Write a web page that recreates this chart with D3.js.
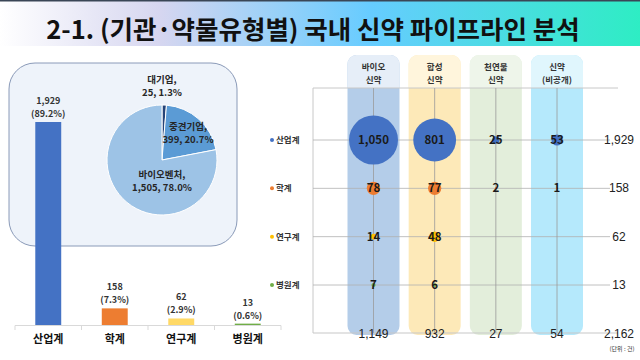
<!DOCTYPE html>
<html><head><meta charset="utf-8">
<script src="https://cdn.jsdelivr.net/npm/d3@7"></script>
<style>html,body{margin:0;padding:0;background:#fff;}svg{display:block;font-family:"Noto Sans CJK KR","Noto Sans",sans-serif;}</style>
</head><body><svg id="c" width="640" height="360"></svg>
<script>
const title = "2-1. (기관·약물유형별) 국내 신약 파이프라인 분석";
const categories = ["산업계", "학계", "연구계", "병원계"];
const catValues = [1929, 158, 62, 13];
const catPct = ["89.2%", "7.3%", "2.9%", "0.6%"];
const catColors = ["#4472C4", "#ED7D31", "#FFD966", "#70AD47"];
const dotColors = ["#4472C4", "#ED7D31", "#FFC000", "#70AD47"];
const pieLabels = ["대기업", "중견기업", "바이오벤처"];
const pieValues = [25, 399, 1505];
const piePct = ["1.3%", "20.7%", "78.0%"];
const pieColors = ["#264478", "#5B9BD5", "#9DC3E6"];
const drugTypes = [["바이오", "신약"], ["합성", "신약"], ["천연물", "신약"], ["신약", "(비공개)"]];
const colBody = ["#b4cde9", "#fde9b8", "#e3eedb", "#b5e9fc"];
const colHead = ["#e6eef8", "#fff5dc", "#eef5ea", "#e0f6fd"];
const industry = [1050, 801, 25, 53];
const academia = [78, 77, 2, 1];
const institute = [14, 48, null, null];
const hospital = [7, 6, null, null];
const rowTotals = [1929, 158, 62, 13];
const colTotals = [1149, 932, 27, 54];
const grandTotal = 2162;
const unitLabel = "(단위 : 건)";

const svg = d3.select("#c");
const fmt = d3.format(",");

// Header
const defs = svg.append("defs");
const g = defs.append("linearGradient").attr("id", "hg");
[[0, "#ffffff"], [0.25, "#d6d6f0"], [0.58, "#66ccff"], [1, "#2eedc4"]].forEach(([o, c]) =>
  g.append("stop").attr("offset", o).attr("stop-color", c));
svg.append("rect").attr("x", 0).attr("y", 0).attr("width", 640).attr("height", 46).attr("fill", "url(#hg)");
svg.append("rect").attr("x", 0).attr("y", 0).attr("width", 640).attr("height", 1.5).attr("fill", "#3a4656");
svg.append("text").attr("x", 313).attr("y", 39).attr("text-anchor", "middle")
  .attr("font-size", 25.5).attr("font-weight", 700).attr("fill", "#111").text(title);

// Left bar chart
const x = d3.scaleBand().domain(categories).range([15, 281]).paddingInner(0.61).paddingOuter(0.305);
const y = d3.scaleLinear().domain([0, 1929]).range([325, 122]);

// Panel
svg.append("rect").attr("x", 9).attr("y", 63).attr("width", 228).attr("height", 183).attr("rx", 26)
  .attr("fill", "#eef3fa").attr("stroke", "#8a9ab8").attr("stroke-width", 1);

// Pie
const pie = d3.pie().sort(null).value(d => d)(pieValues);
const arc = d3.arc().innerRadius(0).outerRadius(55);
const pg = svg.append("g").attr("transform", "translate(162,160)");
pg.selectAll("path").data(pie).join("path").attr("d", arc)
  .attr("fill", (d, i) => pieColors[i]).attr("stroke", "#fff").attr("stroke-width", 1);
const pieLabelPos = [[0, -77], [26, -30], [0, 18]];
pieLabels.forEach((l, i) => {
  const t = pg.append("text").attr("text-anchor", "middle").attr("font-size", 9.5).attr("font-weight", 700).attr("fill", "#262626");
  t.append("tspan").attr("x", pieLabelPos[i][0]).attr("y", pieLabelPos[i][1]).text(l + ",");
  t.append("tspan").attr("x", pieLabelPos[i][0]).attr("y", pieLabelPos[i][1] + 13).text(fmt(pieValues[i]) + ", " + piePct[i]);
});

// Bars
svg.selectAll(".bar").data(categories).join("rect")
  .attr("x", d => x(d)).attr("width", x.bandwidth())
  .attr("y", (d, i) => y(catValues[i])).attr("height", (d, i) => 325 - y(catValues[i]))
  .attr("fill", (d, i) => catColors[i]);
// axis
svg.append("line").attr("x1", 15).attr("x2", 281).attr("y1", 325.5).attr("y2", 325.5).attr("stroke", "#d9d9d9");
d3.range(categories.length + 1).forEach(i => {
  const xx = 15 + i * x.step();
  svg.append("line").attr("x1", xx).attr("x2", xx).attr("y1", 325.5).attr("y2", 330).attr("stroke", "#d9d9d9");
});
categories.forEach((c, i) => {
  const cx = x(c) + x.bandwidth() / 2;
  svg.append("text").attr("x", cx).attr("y", 343).attr("text-anchor", "middle")
    .attr("font-size", 11).attr("font-weight", 700).attr("fill", "#111").text(c);
  const top = y(catValues[i]);
  const t = svg.append("text").attr("text-anchor", "middle").attr("font-size", 9).attr("font-weight", 700).attr("fill", "#333");
  t.append("tspan").attr("x", cx).attr("y", top - 18).text(fmt(catValues[i]));
  t.append("tspan").attr("x", cx).attr("y", top - 5).text("(" + catPct[i] + ")");
});

// Right matrix
const cx = d3.scalePoint().domain(d3.range(drugTypes.length)).range([373.5, 557]);
const ry = d3.scalePoint().domain(categories).range([140, 285]);
const gridL = 313, gridR = 618, gridT = 88, gridB = 333, totX = 619;
const colW = 52, colTop = 55, colBot = 335, rr = 9;

drugTypes.forEach((d, i) => {
  const x0 = cx(i) - colW / 2;
  svg.append("rect").attr("x", x0).attr("y", colTop).attr("width", colW).attr("height", colBot - colTop)
    .attr("rx", rr).attr("fill", colBody[i]);
  const p = d3.path();
  p.moveTo(x0, gridT); p.lineTo(x0, colTop + rr); p.arcTo(x0, colTop, x0 + rr, colTop, rr);
  p.lineTo(x0 + colW - rr, colTop); p.arcTo(x0 + colW, colTop, x0 + colW, colTop + rr, rr);
  p.lineTo(x0 + colW, gridT); p.closePath();
  svg.append("path").attr("d", p.toString()).attr("fill", colHead[i]);
  svg.append("text").attr("x", cx(i)).attr("y", 70).attr("text-anchor", "middle").attr("font-size", 8.5)
    .attr("font-weight", 700).attr("fill", "#333").text(d[0]);
  svg.append("text").attr("x", cx(i)).attr("y", 83).attr("text-anchor", "middle").attr("font-size", 8.5)
    .attr("font-weight", 700).attr("fill", "#333").text(d[1]);
});

// grid lines
svg.append("line").attr("x1", gridL).attr("x2", gridR).attr("y1", gridT).attr("y2", gridT).attr("stroke", "#c8c8c8");
svg.append("line").attr("x1", gridL).attr("x2", gridR).attr("y1", gridB).attr("y2", gridB).attr("stroke", "#c8c8c8").attr("stroke-width", 1.2);
svg.append("line").attr("x1", gridL).attr("x2", gridL).attr("y1", gridT).attr("y2", gridB).attr("stroke", "#c8c8c8");
categories.forEach(c => svg.append("line").attr("x1", gridL).attr("x2", gridR - 8).attr("y1", ry(c)).attr("y2", ry(c)).attr("stroke", "#b0b0b0").attr("stroke-width", 0.8));
drugTypes.forEach((d, i) => svg.append("line").attr("x1", cx(i)).attr("x2", cx(i)).attr("y1", gridT).attr("y2", gridB).attr("stroke", "#9a9a9a").attr("stroke-width", 0.8));

// bubbles
const matrix = [industry, academia, institute, hospital];
const r = d3.scaleSqrt().domain([0, 1050]).range([0, 24.5]);
matrix.forEach((row, ri) => {
  row.forEach((v, ci) => {
    if (v == null) return;
    svg.append("circle").attr("cx", cx(ci)).attr("cy", ry(categories[ri])).attr("r", r(v)).attr("fill", dotColors[ri]);
    svg.append("text").attr("x", cx(ci)).attr("y", ry(categories[ri]) + 4).attr("text-anchor", "middle")
      .attr("font-size", 11.5).attr("font-weight", 700).attr("fill", "#1a1a1a").text(fmt(v));
  });
  // row label
  svg.append("circle").attr("cx", 272).attr("cy", ry(categories[ri])).attr("r", 2).attr("fill", dotColors[ri]);
  svg.append("text").attr("x", 276).attr("y", ry(categories[ri]) + 3).attr("font-size", 8.5).attr("font-weight", 700)
    .attr("fill", "#333").text(categories[ri]);
  // row totals
  svg.append("text").attr("x", totX).attr("y", ry(categories[ri]) + 4).attr("text-anchor", "middle")
    .attr("font-family", "Liberation Sans, Arial, sans-serif").attr("font-size", 12).attr("fill", "#222").text(fmt(rowTotals[ri]));
});
colTotals.forEach((v, i) => svg.append("text").attr("x", cx(i)).attr("y", gridB + 5).attr("text-anchor", "middle")
  .attr("font-family", "Liberation Sans, Arial, sans-serif").attr("font-size", 12).attr("fill", "#222").text(fmt(v)));
svg.append("text").attr("x", totX).attr("y", gridB + 5).attr("text-anchor", "middle")
  .attr("font-family", "Liberation Sans, Arial, sans-serif").attr("font-size", 12).attr("fill", "#222").text(fmt(grandTotal));
svg.append("text").attr("x", 622).attr("y", 351).attr("text-anchor", "middle").attr("font-size", 6).attr("fill", "#333").text(unitLabel);
</script></body></html>
